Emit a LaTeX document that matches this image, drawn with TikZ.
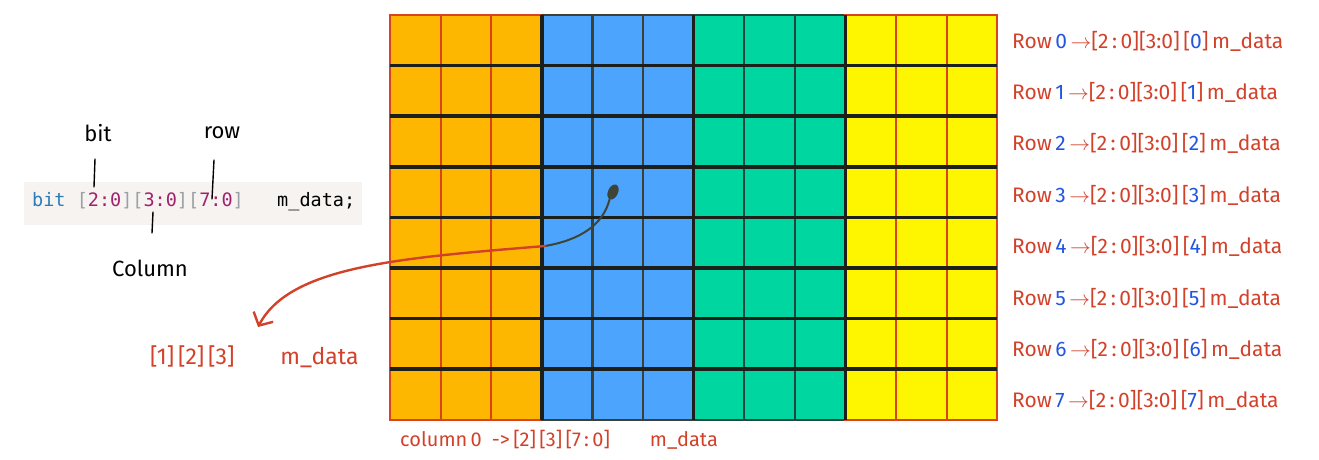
\documentclass[tikz,border=0pt]{standalone}
\usepackage{fontspec}
\setmainfont{Fira Sans}
\newfontfamily\codefont{DejaVu Sans Mono}
\usetikzlibrary{arrows.meta,positioning,shapes.geometric}
\definecolor{cellorange}{HTML}{FDB700}
\definecolor{cellblue}{HTML}{4DA4FD}
\definecolor{cellgreen}{HTML}{00D6A0}
\definecolor{cellyellow}{HTML}{FEF500}
\definecolor{edgered}{HTML}{D9441E}
\definecolor{edgegray}{HTML}{3C4138}
\definecolor{edgeteal}{HTML}{1E4A40}
\definecolor{gridblack}{HTML}{1C1F1A}
\definecolor{inkred}{HTML}{D2412A}
\definecolor{idxblue}{HTML}{2256E0}
\definecolor{blobgray}{HTML}{3F4536}
\definecolor{codebg}{HTML}{F6F3F0}
\definecolor{codeblue}{HTML}{2A7DB8}
\definecolor{codegray}{HTML}{9AA0A6}
\definecolor{codenum}{HTML}{A0226E}
\tikzset{
  cell/.style={line width=2.2pt},
  rowline/.style={line width=3.5pt,draw=gridblack},
  hand/.style={line width=1.4pt,line cap=round},
  handlbl/.style={inner sep=0pt,font=\fontsize{22}{24}\selectfont},
  redlbl/.style={inner sep=0pt,text=inkred,font=\fontsize{21}{23}\selectfont},
}
\newcommand{\bx}[1]{\textcolor{codegray}{[}\textcolor{codenum}{#1}\textcolor{codegray}{]}}
\newcommand{\ix}[1]{\textcolor{idxblue}{#1}}

\begin{document}
\begin{tikzpicture}[x=1pt,y=-1pt]
    \useasboundingbox (0,0) rectangle (1319,459);
    % memory grid: 4 bit planes x 3 columns, 8 rows
    \foreach \g/\fc/\bc in {0/cellorange/edgered,1/cellblue/edgegray,2/cellgreen/edgeteal,3/cellyellow/edgered}{
      \foreach \i in {0,1,2}{
        \foreach \j in {0,...,7}{
          \filldraw[cell,fill=\fc,draw=\bc] ({390+50.6*(3*\g+\i)},{15+50.6*\j}) rectangle ++(50.6,50.6);
        }
      }
    }
    \foreach \j in {1,...,7}
      \draw[rowline] (390,{15+50.6*\j}) -- (997.2,{15+50.6*\j});
    \foreach \k in {1,2,3}
      \draw[rowline] ({390+151.8*\k},15) -- ({390+151.8*\k},419.8);
    % declaration
    \fill[codebg] (24,182) rectangle (362,225);
    \node[anchor=west,inner sep=0pt,font=\codefont\fontsize{18.5}{20}\selectfont] (code) at (32,202)
      {\textcolor{codeblue}{bit}~\bx{2:0}\bx{3:0}\bx{7:0}~~~m\_data;};
    \node[handlbl] (lblbit) at (98,133) {bit};
    \node[handlbl] (lblrow) at (222,133) {row};
    \node[handlbl] (lblcol) at (150,268) {Column};
    \coordinate (bitA) at (95,159);
    \coordinate (bitB) at (94,187);
    \coordinate (rowA) at (214,160);
    \coordinate (rowB) at (212,199);
    \coordinate (colA) at (153,212);
    \coordinate (colB) at (152,233);
    \draw[hand] (bitA) -- (bitB);
    \draw[hand] (rowA) -- (rowB);
    \draw[hand] (colA) -- (colB);
    % row labels
    \foreach \r in {0,...,7}
      \node[redlbl,anchor=west] (row\r) at (1012,{41+51.4*\r})
        {Row\,\ix{\r}\,$\rightarrow$[2\,:\,0][3:0]\,[\ix{\r}]\,m\_data};
    % column label
    \node[redlbl,anchor=west,font=\fontsize{20}{22}\selectfont] (col0) at (400,440)
      {column\,0\enspace->\,[2]\,[3]\,[7\,:\,0]\qquad m\_data};
    % picked element
    \node[ellipse,fill=blobgray,minimum width=10pt,minimum height=16pt,inner sep=0pt,rotate=-25] (blob) at (613,192) {};
    \node[redlbl,anchor=west,font=\fontsize{23}{25}\selectfont] (pick) at (150,357) {[1]\,[2]\,[3]\qquad m\_data};
    \coordinate (bend) at (545,246);
    \coordinate (tip) at (258,327);
    \draw[hand,blobgray,line width=2pt] (blob.south) .. controls (603,225) and (580,240) .. (bend);
    \draw[hand,inkred,line width=2.4pt,-{Straight Barb[length=10pt,width=22pt]}] (bend) .. controls (400,258) and (290,266) .. (tip);
\end{tikzpicture}
\end{document}
